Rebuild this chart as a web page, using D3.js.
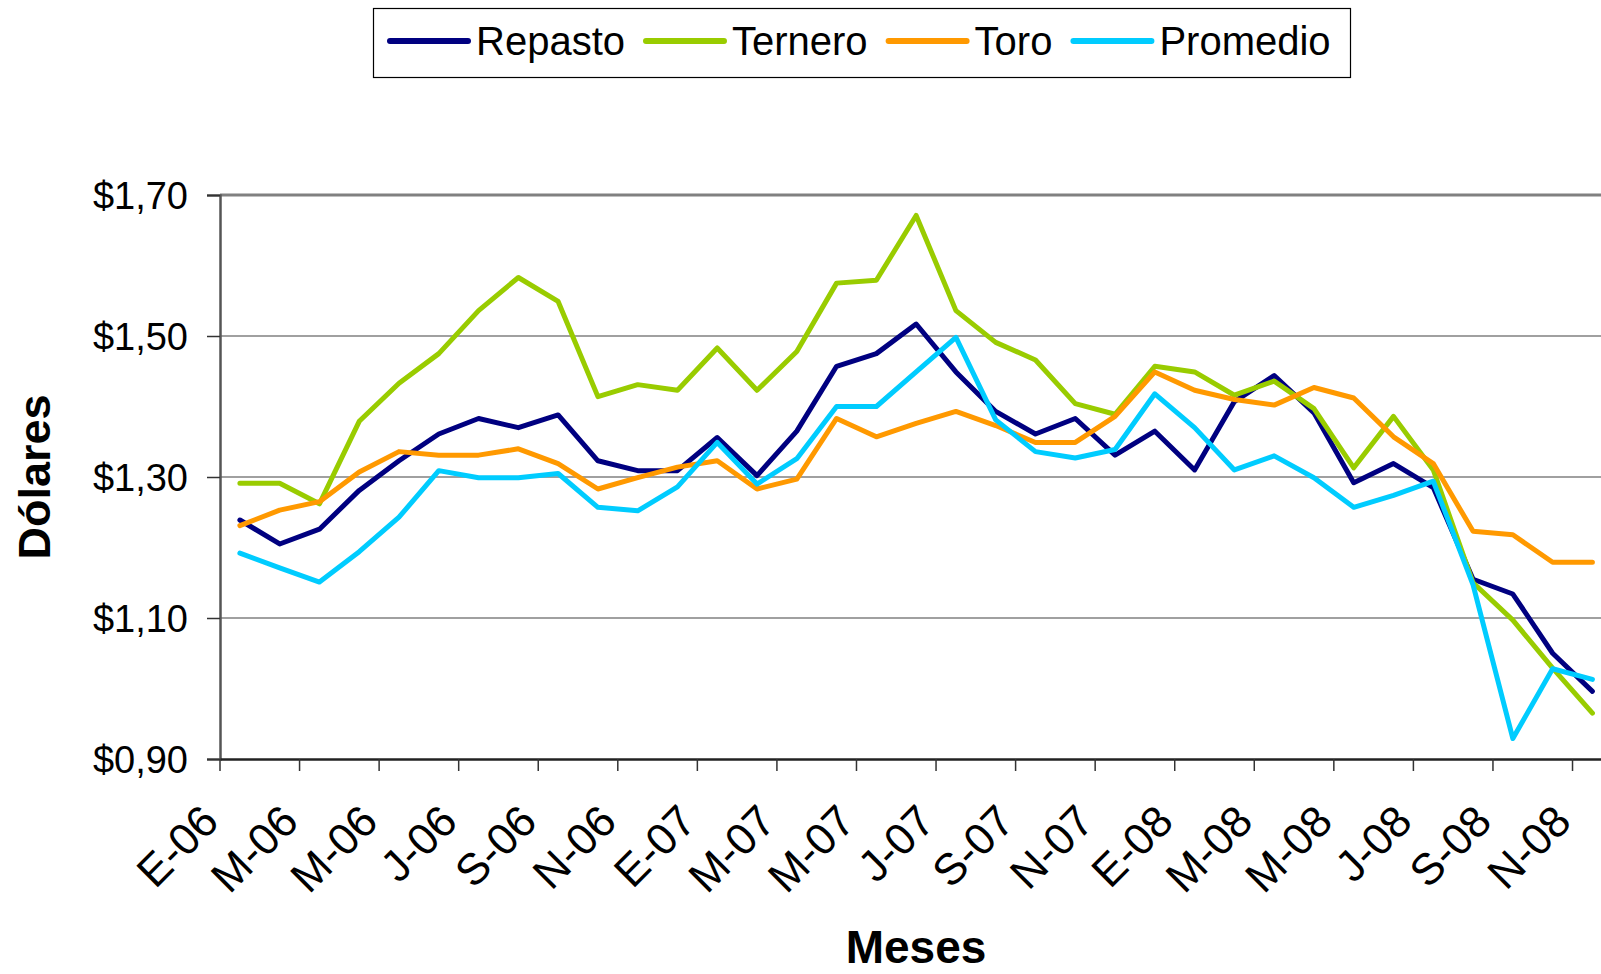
<!DOCTYPE html>
<html>
<head>
<meta charset="utf-8">
<script src="https://cdn.jsdelivr.net/npm/d3@7"></script>
<style>
  body { margin: 0; background: #fff; }
  text { font-family: "Liberation Sans", Arial, sans-serif; }
</style>
</head>
<body>
<div id="chart"></div>
<script>
var months = ["E-06","F-06","M-06","A-06","M-06","J-06","J-06","A-06","S-06","O-06","N-06","D-06",
              "E-07","F-07","M-07","A-07","M-07","J-07","J-07","A-07","S-07","O-07","N-07","D-07",
              "E-08","F-08","M-08","A-08","M-08","J-08","J-08","A-08","S-08","O-08","N-08"];

var repasto  = [1.239,1.205,1.226,1.281,1.323,1.361,1.383,1.370,1.388,1.323,1.309,1.309,
                1.356,1.302,1.365,1.457,1.475,1.517,1.449,1.393,1.361,1.383,1.331,1.365,
                1.310,1.407,1.444,1.391,1.292,1.319,1.285,1.155,1.134,1.050,0.996];
var ternero  = [1.291,1.291,1.262,1.379,1.433,1.475,1.536,1.583,1.549,1.414,1.431,1.423,
                1.483,1.423,1.478,1.575,1.579,1.671,1.536,1.491,1.466,1.404,1.389,1.457,
                1.449,1.416,1.436,1.397,1.313,1.386,1.310,1.150,1.097,1.029,0.965];
var toro     = [1.231,1.253,1.265,1.307,1.336,1.331,1.331,1.340,1.319,1.283,1.299,1.314,
                1.323,1.283,1.297,1.383,1.357,1.376,1.393,1.373,1.349,1.349,1.386,1.449,
                1.423,1.410,1.402,1.427,1.412,1.357,1.319,1.223,1.218,1.179,1.179];
var promedio = [1.192,1.171,1.151,1.194,1.243,1.309,1.299,1.299,1.305,1.257,1.252,1.286,
                1.349,1.290,1.326,1.400,1.400,1.449,1.498,1.381,1.336,1.327,1.339,1.418,
                1.370,1.310,1.330,1.299,1.257,1.274,1.294,1.147,0.929,1.028,1.013];

var seriesNames = ["Repasto","Ternero","Toro","Promedio"];
var colors = ["#000080","#99cc00","#ff9900","#00ccff"];
var yTicks = [0.90,1.10,1.30,1.50,1.70];

var series = [repasto, ternero, toro, promedio];

var W = 1601, H = 974;
var plotLeft = 220, plotTop = 195, plotBottom = 759;
var bandW = 39.78;

var svg = d3.select("#chart").append("svg")
    .attr("width", W)
    .attr("height", H);

var x = d3.scaleBand()
    .domain(d3.range(months.length))
    .range([plotLeft, plotLeft + bandW * months.length]);

var y = d3.scaleLinear()
    .domain([0.90, 1.70])
    .range([plotBottom, plotTop]);

var loc = d3.formatLocale({decimal: ",", thousands: ".", grouping: [3], currency: ["$", ""]});
var fmt = loc.format("$.2f");

// gridlines
svg.append("g")
  .selectAll("line")
  .data(yTicks.slice(1))
  .enter()
  .append("line")
    .attr("x1", plotLeft)
    .attr("x2", x.range()[1])
    .attr("y1", function(d) { return y(d); })
    .attr("y2", function(d) { return y(d); })
    .attr("stroke", "#808080")
    .attr("stroke-width", function(d) { return d == 1.70 ? 3 : 1.5; });

// y axis
var yAxis = svg.append("g")
    .attr("transform", "translate(" + plotLeft + ",0)")
    .call(d3.axisLeft(y).tickValues(yTicks).tickFormat(fmt).tickSize(13).tickPadding(19));
yAxis.select(".domain").attr("stroke", "#555").attr("stroke-width", 2.5);
yAxis.selectAll(".tick line").attr("stroke", "#333").attr("stroke-width", 1.5);
yAxis.selectAll("text")
    .style("font-size", "38px")
    .attr("fill", "#000")
    .attr("dy", "0.36em");

// x axis
var xAxis = svg.append("g")
    .attr("transform", "translate(0," + plotBottom + ")")
    .call(d3.axisBottom(x).tickValues([]).tickSizeOuter(0));
xAxis.select(".domain").attr("stroke", "#222").attr("stroke-width", 2.5);

xAxis.selectAll(".xtick")
  .data(d3.range(0, months.length + 1, 2))
  .enter()
  .append("line")
    .attr("x1", function(i) { return plotLeft + i * x.bandwidth(); })
    .attr("x2", function(i) { return plotLeft + i * x.bandwidth(); })
    .attr("y1", 0)
    .attr("y2", 12)
    .attr("stroke", "#333")
    .attr("stroke-width", 1.5);

xAxis.selectAll(".xlab")
  .data(d3.range(0, months.length, 2))
  .enter()
  .append("text")
    .attr("transform", function(i) {
      return "translate(" + (x(i) + x.bandwidth() / 2 - 19) + ",65)rotate(-45)";
    })
    .attr("text-anchor", "end")
    .style("font-size", "44px")
    .attr("fill", "#000")
    .text(function(i) { return months[i]; });

// lines
var line = d3.line()
    .x(function(d, i) { return x(i) + x.bandwidth() / 2; })
    .y(function(d) { return y(d); });

svg.append("g")
  .selectAll("path")
  .data(series)
  .enter()
  .append("path")
    .attr("d", line)
    .attr("fill", "none")
    .attr("stroke", function(d, i) { return colors[i]; })
    .attr("stroke-width", 5)
    .attr("stroke-linejoin", "round")
    .attr("stroke-linecap", "round");

// axis titles
svg.append("text")
    .attr("x", 916)
    .attr("y", 963)
    .attr("text-anchor", "middle")
    .style("font-size", "46px")
    .style("font-weight", "bold")
    .text("Meses");

svg.append("text")
    .attr("transform", "translate(50," + ((plotTop + plotBottom) / 2) + ")rotate(-90)")
    .attr("text-anchor", "middle")
    .style("font-size", "45px")
    .style("font-weight", "bold")
    .text("Dólares");

// legend
var legend = svg.append("g");
legend.append("rect")
    .attr("x", 373.5)
    .attr("y", 8.5)
    .attr("width", 977)
    .attr("height", 69)
    .attr("fill", "#fff")
    .attr("stroke", "#000")
    .attr("stroke-width", 1.2);

var lx = 388;
seriesNames.forEach(function(name, i) {
  legend.append("line")
      .attr("x1", lx + 2)
      .attr("x2", lx + 80)
      .attr("y1", 41)
      .attr("y2", 41)
      .attr("stroke", colors[i])
      .attr("stroke-width", 6)
      .attr("stroke-linecap", "round");
  var t = legend.append("text")
      .attr("x", lx + 88)
      .attr("y", 55)
      .style("font-size", "40px")
      .text(name);
  lx = lx + 88 + t.node().getComputedTextLength() + 19;
});
</script>
</body>
</html>
